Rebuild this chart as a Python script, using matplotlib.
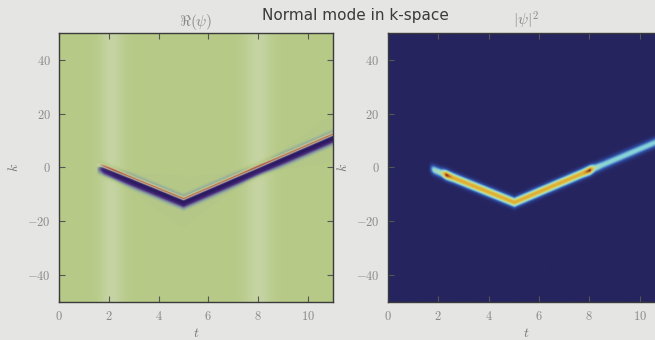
import numpy as np
import matplotlib
matplotlib.use("Agg")
import matplotlib.pyplot as plt
from matplotlib.colors import LinearSegmentedColormap
from matplotlib.ticker import FuncFormatter

plt.rcParams['mathtext.fontset'] = 'cm'

# ---- data ----
t_range = [0.0, 11.0]
k_range = [-50.0, 50.0]
# ridge path (vertices of the V) in (t, k)
path_t = [1.7, 5.0, 11.0]
path_k = [-0.5, -13.0, 11.0]
ridge_sigma = 1.2
# |psi|^2 intensity along the ridge
amp_t = [1.6, 1.8, 2.1, 2.3, 2.6, 7.7, 8.0, 8.2, 8.5, 11.0]
amp_v = [0.0, 0.45, 0.5, 0.97, 0.78, 0.78, 0.97, 0.5, 0.42, 0.40]
# Re(psi) strength along the ridge
re_t = [1.5, 1.8, 2.2, 11.0]
re_v = [0.0, 0.8, 1.0, 1.0]
# pale vertical bands in Re(psi) panel
band_t = [2.1, 8.0]
band_w = [0.35, 0.4]
band_v = [0.10, 0.10]
xticks = [0, 2, 4, 6, 8, 10]
yticks = [-40, -20, 0, 20, 40]

title = "Normal mode in k-space"
sub_left = r"$\Re(\psi)$"
sub_right = r"$|\psi|^2$"

# ---- build fields ----
T = np.linspace(t_range[0], t_range[1], 550)
K = np.linspace(k_range[0], k_range[1], 500)
TT, KK = np.meshgrid(T, K)
kc = np.interp(T, path_t, path_k)
dk = KK - kc[None, :]
g = np.exp(-dk**2 / (2 * ridge_sigma**2))
amp = np.interp(T, amp_t, amp_v, left=0, right=amp_v[-1])[None, :]
intensity = amp * g
re_amp = np.interp(T, re_t, re_v, left=0)[None, :]
gf = np.exp(-(dk - 1.3)**2 / (2 * (0.45)**2))
re_field = re_amp * (-g + 1.0 * gf)
for bt, bw, bv in zip(band_t, band_w, band_v):
    re_field = re_field + bv * np.exp(-(TT - bt)**2 / (2 * bw**2))

cmap_re = LinearSegmentedColormap.from_list("re", [
    (0.0, "#2a1a5e"), (0.25, "#4a2a80"), (0.45, "#8fa8a0"),
    (0.5, "#b6c986"), (0.56, "#c8d6a8"), (0.62, "#c8b080"),
    (0.76, "#b05848"), (1.0, "#6a2048")])
cmap_abs = LinearSegmentedColormap.from_list("ab", [
    (0.0, "#25245f"), (0.18, "#3050a8"), (0.38, "#80d0e0"),
    (0.52, "#c0e0a0"), (0.7, "#e0c040"), (0.82, "#e0a030"),
    (0.95, "#8a3020"), (1.0, "#6a2018")])

fig = plt.figure(figsize=(6.55, 3.4), dpi=100, facecolor="#e5e5e3")
ax1 = fig.add_axes([0.090, 0.112, 0.418, 0.791])
ax2 = fig.add_axes([0.592, 0.112, 0.423, 0.791])

ax1.imshow(re_field, extent=[*t_range, *k_range], origin="lower", aspect="auto",
           cmap=cmap_re, vmin=-1, vmax=1, interpolation="bilinear")
ax2.imshow(intensity, extent=[*t_range, *k_range], origin="lower", aspect="auto",
           cmap=cmap_abs, vmin=0, vmax=1, interpolation="bilinear")

fmt = FuncFormatter(lambda v, p: r"$%d$" % v)
for ax, sub in ((ax1, sub_left), (ax2, sub_right)):
    ax.set_xlim(*t_range)
    ax.set_ylim(*k_range)
    ax.set_xticks(xticks)
    ax.set_yticks(yticks)
    ax.xaxis.set_major_formatter(fmt)
    ax.yaxis.set_major_formatter(fmt)
    ax.tick_params(direction="in", top=True, right=True, length=4, width=0.8,
                   color="#555555", labelcolor="#8a8a8a", labelsize=9, pad=6)
    for s in ax.spines.values():
        s.set_color("#3a3a3a")
        s.set_linewidth(1.0)
    ax.set_xlabel(r"$t$", color="#777777", fontsize=10, labelpad=2)
    ax.set_ylabel(r"$k$", color="#777777", fontsize=10, labelpad=4)
    ax.set_title(sub, color="#888888", fontsize=11, pad=5)

fig.text(0.542, 0.955, title, ha="center", va="center", fontsize=11,
         color="#3a3a3a", family="DejaVu Sans")

fig.savefig("out.png", dpi=100, facecolor=fig.get_facecolor())
